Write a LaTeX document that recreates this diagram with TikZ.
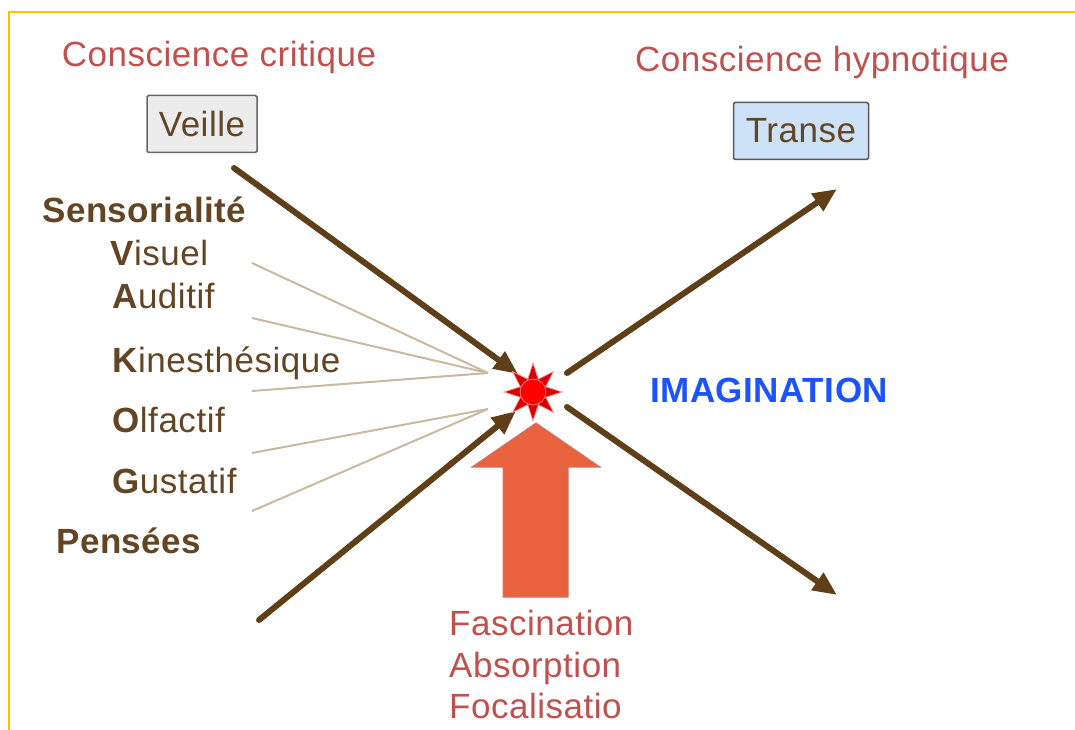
\documentclass[tikz,border=0pt]{standalone}
\usepackage{fontspec}
\setmainfont{Liberation Sans}[LetterSpace=1.5]
\usetikzlibrary{arrows.meta,shapes.geometric}

\definecolor{frameGold}{HTML}{FFC000}
\definecolor{titleRed}{HTML}{C0504D}
\definecolor{senseBrown}{HTML}{634524}
\definecolor{arrowBrown}{HTML}{5E3F17}
\definecolor{rayTan}{HTML}{C8B9A0}
\definecolor{imagBlue}{HTML}{1A53FF}
\definecolor{pushOrange}{HTML}{E8623D}
\definecolor{tranceBlue}{HTML}{CDE1F7}

\tikzset{
  statebox/.style={draw=#1, rounded corners=1.5pt, line width=1.5pt,
    minimum height=57pt, inner sep=0pt, text=senseBrown},
  mainarrow/.style={arrowBrown, line width=6pt, line cap=round,
    -{Triangle[length=24pt,width=20pt]}},
  senseray/.style={rayTan, line width=2pt},
  sense/.style={anchor=base west, inner sep=0pt, text=senseBrown},
  caption/.style={anchor=base west, inner sep=0pt, text=titleRed}
}

\begin{document}
\begin{tikzpicture}[x=1pt, y=-1pt, font=\fontsize{35}{40}\selectfont]
  \useasboundingbox (0,0) rectangle (1075,730);
  \draw[frameGold, line width=2.5pt] (9,730) -- (9,12) -- (1075,12);
  %
  \node[caption, anchor=base] (critique) at (219,67) {Conscience critique};
  \node[caption, anchor=base] (hypno) at (822,72) {Conscience hypnotique};
  \node[statebox=gray!80!black, fill=gray!15, minimum width=110pt] (veille) at (202,124) {Veille};
  \node[statebox=gray!70!black, fill=tranceBlue, minimum width=135pt] (transe) at (801,131) {Transe};
  %
  \node[sense, font=\fontsize{35}{40}\selectfont\bfseries] (sensor) at (42,222) {Sensorialité};
  \node[sense] (visuel) at (110,265) {\textbf{V}isuel};
  \node[sense] (auditif) at (112,308) {\textbf{A}uditif};
  \node[sense] (kines) at (112,372) {\textbf{K}inesthésique};
  \node[sense] (olfact) at (112,432) {\textbf{O}lfactif};
  \node[sense] (gustat) at (112,493) {\textbf{G}ustatif};
  \node[sense, font=\fontsize{35}{40}\selectfont\bfseries] (pensees) at (56,553) {Pensées};
  \node[anchor=base west, inner sep=0pt, text=imagBlue, font=\fontsize{35}{40}\selectfont\bfseries] (imag) at (650,402) {IMAGINATION};
  %
  \node[caption] (fasc) at (449,635) {Fascination};
  \node[caption] (absorp) at (449,677) {Absorption};
  \node[caption] (focal) at (449,718) {Focalisatio};
  %
  \coordinate (rayHi) at (488,373);
  \coordinate (rayLo) at (488,409);
  \foreach \name/\y in {visRay/263, audRay/318, kinRay/391} {
    \coordinate (\name) at (252,\y);
    \draw[senseray] (\name) -- (rayHi);
  }
  \foreach \name/\y in {olfRay/453, gusRay/511} {
    \coordinate (\name) at (252,\y);
    \draw[senseray] (\name) -- (rayLo);
  }
  %
  \coordinate (veilleOut) at (234,168);
  \coordinate (penseOut) at (259,620);
  \coordinate (hitHi) at (518,374);
  \coordinate (hitLo) at (516,411);
  \coordinate (outHi) at (567,373);
  \coordinate (outLo) at (567,407);
  \coordinate (tranceEnd) at (837,189);
  \coordinate (lowEnd) at (837,595);
  \draw[mainarrow] (veilleOut) -- (hitHi);
  \draw[mainarrow] (penseOut) -- (hitLo);
  \draw[mainarrow] (outHi) -- (tranceEnd);
  \draw[mainarrow] (outLo) -- (lowEnd);
  %
  \draw[fill=pushOrange, draw=titleRed!80, line width=1pt]
    (503,597) -- (503,467) -- (472,467) -- (536,423) -- (600,467) -- (568,467) -- (568,597) -- cycle;
  %
  \node[star, star points=8, star point ratio=2.1, minimum size=58pt, inner sep=0pt,
    fill=red!85!black, draw=red!40, line width=0.8pt] (spark) at (533,392) {};
  \node[circle, minimum size=26pt, inner sep=0pt, fill=red, draw=red!50, line width=0.8pt] (core) at (533,392) {};
\end{tikzpicture}
\end{document}
